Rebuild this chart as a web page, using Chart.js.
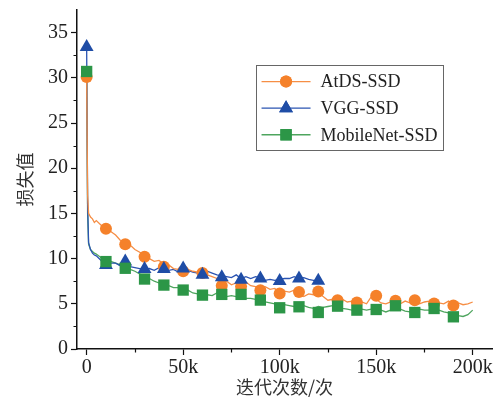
<!DOCTYPE html>
<html>
<head>
<meta charset="utf-8">
<script src="https://cdn.jsdelivr.net/npm/chart.js@4.4.1/dist/chart.umd.min.js"></script>
<style>
  html, body { margin: 0; padding: 0; background: #fff; }
  #wrap { width: 500px; height: 402px; position: relative; }
</style>
</head>
<body>
<div id="wrap"><canvas id="c" width="500" height="402"></canvas></div>
<script>
// ---- data (x in thousands of iterations) ----
const seriesNames = ['AtDS-SSD', 'VGG-SSD', 'MobileNet-SSD'];
const lineX = [0, 0.5, 1, 2, 3, 4, 5,
  7.5, 10, 12.5, 15, 17.5, 20, 22.5, 25, 27.5, 30,
  32.5, 35, 37.5, 40, 42.5, 45, 47.5, 50, 52.5, 55,
  57.5, 60, 62.5, 65, 67.5, 70, 72.5, 75, 77.5, 80,
  82.5, 85, 87.5, 90, 92.5, 95, 97.5, 100, 102.5, 105,
  107.5, 110, 112.5, 115, 117.5, 120, 122.5, 125, 127.5, 130,
  132.5, 135, 137.5, 140, 142.5, 145, 147.5, 150, 152.5, 155,
  157.5, 160, 162.5, 165, 167.5, 170, 172.5, 175, 177.5, 180,
  182.5, 185, 187.5, 190, 192.5, 195, 197.5, 200];
const atdsLine = [30.3, 17.0, 15.0, 14.6, 14.4, 14.0, 14.2,
  13.7, 13.3, 13.0, 12.6, 12.0, 11.7, 11.5, 11.0, 10.7, 10.3,
  10.0, 9.7, 9.8, 9.4, 9.3, 8.9, 8.8, 8.6, 8.8, 8.6,
  8.5, 8.4, 8.2, 8.0, 7.8, 7.3, 7.5, 7.1, 7.3, 7.0,
  7.4, 7.0, 6.9, 6.7, 6.9, 6.6, 6.7, 6.2, 6.4, 6.3,
  6.5, 6.2, 5.8, 6.1, 6.0, 6.2, 5.8, 5.4, 5.5, 5.3,
  5.5, 5.2, 5.3, 5.1, 5.2, 5.0, 5.8, 5.5, 5.1, 5.0,
  5.2, 5.3, 5.0, 5.3, 5.1, 5.2, 5.0, 5.2, 5.3, 5.0,
  5.1, 5.0, 5.3, 4.9, 5.1, 4.9, 5.0, 5.2];
const vggLine = [33.5, 16.0, 11.8, 11.0, 10.6, 10.4, 10.3,
  9.8, 9.3, 9.5, 9.5, 9.2, 9.4, 9.1, 9.0, 8.9, 8.8,
  8.9, 8.7, 9.0, 8.9, 8.7, 8.8, 8.5, 8.7, 8.7, 8.5,
  8.4, 8.3, 8.6, 8.4, 8.2, 8.1, 8.0, 7.9, 8.2, 7.8,
  8.0, 7.8, 8.0, 7.9, 7.6, 7.7, 7.6, 7.7, 7.8, 7.8,
  8.0, 7.8, 7.9, 7.7, 7.6, 7.6, 7.4];
const mobileLine = [30.7, 15.0, 11.6, 11.0, 10.8, 10.6, 10.5,
  10.1, 9.9, 9.7, 9.5, 9.3, 9.1, 8.8, 8.6, 8.3, 8.0,
  7.8, 7.5, 7.3, 7.1, 7.0, 6.8, 6.8, 6.6, 6.5, 6.2,
  6.1, 6.0, 6.0, 5.9, 6.2, 6.0, 5.8, 5.9, 5.8, 6.0,
  5.6, 5.6, 5.5, 5.4, 5.2, 5.1, 5.0, 4.7, 4.9, 4.8,
  4.7, 4.7, 4.8, 4.6, 4.5, 4.7, 4.6, 4.7, 4.8, 4.7,
  4.5, 4.4, 4.3, 4.3, 4.4, 4.3, 4.4, 4.5, 4.3, 4.1,
  4.3, 4.5, 4.4, 4.2, 4.1, 4.2, 4.4, 4.3, 4.3, 4.4,
  4.3, 4.1, 4.0, 3.9, 3.7, 3.6, 3.8, 4.3];

const markerX = [0, 10, 20, 30, 40, 50, 60, 70, 80, 90, 100, 110, 120, 130, 140, 150, 160, 170, 180, 190];
const atdsMarks = [30.1, 13.3, 11.6, 10.2, 9.1, 8.6, 8.4, 7.0, 6.9, 6.5, 6.15, 6.3, 6.35, 5.4, 5.15, 5.9, 5.33, 5.4, 5.04, 4.8];
const vggMarks = [33.4, 9.3, 9.67, 8.85, 8.85, 8.9, 8.2, 7.93, 7.67, 7.81, 7.52, 7.81, 7.55];
const mobileMarks = [30.7, 9.67, 8.93, 7.74, 7.07, 6.52, 5.96, 6.04, 6.04, 5.41, 4.56, 4.67, 4.04, 4.74, 4.3, 4.37, 4.78, 4.04, 4.48, 3.56];

const xMajorTicks = [0, 50, 100, 150, 200];
const xMinorTicks = [25, 75, 125, 175];
const yMajorTicks = [0, 5, 10, 15, 20, 25, 30, 35];
const yMinorTicks = [2.5, 7.5, 12.5, 17.5, 22.5, 27.5, 32.5];
const xTitle = '迭代次数/次';
const yTitle = '损失值';

// ---- styles ----
const lineColors = ['#F68E45', '#2B54B2', '#4EA55E'];
const markColors = ['#F5812A', '#1F4DA6', '#2C9647'];
const markStyles = ['circle', 'triangle', 'rect'];
const markRadius = [6, 8, 8];

function pts(xs, ys) { return ys.map((y, i) => ({ x: xs[i], y: y })); }

const lineData = [atdsLine, vggLine, mobileLine];
const markData = [atdsMarks, vggMarks, mobileMarks];

const datasets = [];
for (let i = 0; i < 3; i++) {
  datasets.push({
    label: seriesNames[i] + ' line',
    data: pts(lineX, lineData[i]),
    showLine: true,
    borderColor: lineColors[i],
    borderWidth: 1.3,
    pointRadius: 0,
    tension: 0,
    fill: false,
    order: 10 + i
  });
}
for (let i = 0; i < 3; i++) {
  datasets.push({
    label: seriesNames[i],
    data: pts(markerX, markData[i]),
    showLine: false,
    pointStyle: markStyles[i],
    pointRadius: markRadius[i],
    pointBackgroundColor: markColors[i],
    pointBorderColor: markColors[i],
    pointBorderWidth: 0,
    order: 3 - i
  });
}

const serif = "'Liberation Serif', 'Times New Roman', serif";
const cjk = "'Noto Sans CJK SC', sans-serif";

const minorTicksPlugin = {
  id: 'minorTicks',
  afterDraw(chart) {
    const ctx = chart.ctx;
    const xs = chart.scales.x, ys = chart.scales.y;
    ctx.save();
    ctx.strokeStyle = '#111';
    ctx.lineWidth = 1.2;
    ctx.beginPath();
    xMinorTicks.forEach(v => {
      const p = Math.round(xs.getPixelForValue(v)) + 0.5;
      ctx.moveTo(p, xs.top); ctx.lineTo(p, xs.top + 3.5);
    });
    yMinorTicks.forEach(v => {
      const p = Math.round(ys.getPixelForValue(v)) + 0.5;
      ctx.moveTo(ys.right, p); ctx.lineTo(ys.right - 3.5, p);
    });
    ctx.stroke();
    ctx.restore();
  }
};

const legendPlugin = {
  id: 'boxLegend',
  afterDraw(chart) {
    const ctx = chart.ctx;
    const xs = chart.scales.x, ys = chart.scales.y;
    // legend anchored in data space of the chart area
    const left = xs.getPixelForValue(87.5), right = xs.getPixelForValue(184.5);
    const top = ys.getPixelForValue(31.4), bottom = ys.getPixelForValue(22.0);
    ctx.save();
    ctx.fillStyle = '#fff';
    ctx.fillRect(left, top, right - left, bottom - top);
    ctx.strokeStyle = '#666';
    ctx.lineWidth = 1;
    ctx.strokeRect(Math.round(left) + 0.5, Math.round(top) + 0.5, Math.round(right - left), Math.round(bottom - top));
    const rowH = (bottom - top) / 3.1;
    for (let i = 0; i < 3; i++) {
      const y = top + rowH * (0.6 + i * 0.97);
      const lx0 = left + 6, lx1 = left + 55;
      ctx.strokeStyle = lineColors[i];
      ctx.lineWidth = 1.3;
      ctx.beginPath(); ctx.moveTo(lx0, y); ctx.lineTo(lx1, y); ctx.stroke();
      ctx.fillStyle = markColors[i];
      Chart.helpers.drawPoint(ctx, {
        pointStyle: markStyles[i], radius: markRadius[i], rotation: 0, borderWidth: 0
      }, (lx0 + lx1) / 2, y);
      ctx.fill();
      ctx.fillStyle = '#222';
      ctx.font = '18px ' + serif;
      ctx.textBaseline = 'middle';
      ctx.textAlign = 'left';
      ctx.fillText(seriesNames[i], left + 65, y + 1);
    }
    ctx.restore();
  }
};

new Chart(document.getElementById('c'), {
  type: 'scatter',
  data: { datasets },
  plugins: [minorTicksPlugin, legendPlugin],
  options: {
    responsive: false,
    animation: false,
    layout: { padding: { top: 10, right: 5, left: 0, bottom: 0 } },
    plugins: { legend: { display: false }, tooltip: { enabled: false } },
    scales: {
      x: {
        type: 'linear',
        min: -5, max: 210,
        afterBuildTicks: s => { s.ticks = xMajorTicks.map(v => ({ value: v })); },
        afterFit: s => { s.height = 53; s.paddingLeft = 0; s.paddingRight = 0; },
        border: { color: '#111', width: 1.5 },
        grid: { drawOnChartArea: false, drawTicks: true, tickLength: 6, tickColor: '#111', tickWidth: 1.2 },
        ticks: {
          color: '#222', padding: 1, maxRotation: 0,
          font: { family: serif, size: 20 },
          callback: v => (v === 0 ? '0' : v + 'k')
        },
        title: {
          display: true, text: xTitle, color: '#333',
          font: { family: cjk, size: 18 },
          padding: { top: 0, bottom: 4 }
        }
      },
      y: {
        type: 'linear',
        min: 0, max: 37.5,
        afterBuildTicks: s => { s.ticks = yMajorTicks.map(v => ({ value: v })); },
        afterFit: s => { s.width = 77; s.paddingTop = 0; s.paddingBottom = 0; },
        border: { color: '#111', width: 1.5 },
        grid: { drawOnChartArea: false, drawTicks: true, tickLength: 6, tickColor: '#111', tickWidth: 1.2 },
        ticks: {
          color: '#222', padding: 3,
          font: { family: serif, size: 20 }
        },
        title: {
          display: true, text: yTitle, color: '#333',
          font: { family: cjk, size: 18 },
          padding: { top: 14, bottom: 0 }
        }
      }
    }
  }
});
</script>
</body>
</html>
